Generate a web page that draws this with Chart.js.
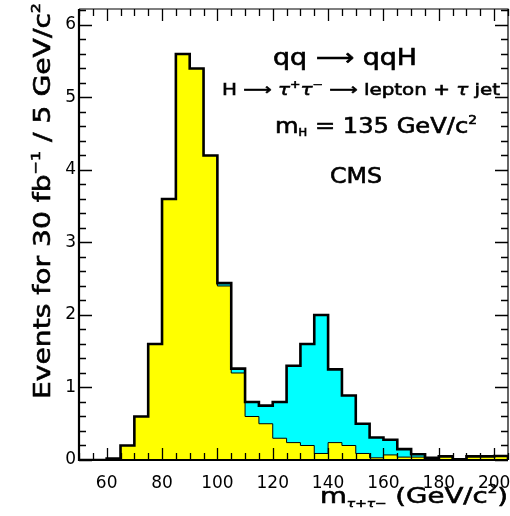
<!DOCTYPE html>
<html>
<head>
<meta charset="utf-8">
<title>m tau tau</title>
<script src="https://cdn.jsdelivr.net/npm/chart.js@4/dist/chart.umd.min.js"></script>
<style>
  body { margin: 0; background: #fff; }
  canvas { display: block; }
</style>
</head>
<body>
<canvas id="mass" width="510" height="516"></canvas>
<script>
// bin edges in GeV/c^2 (5 GeV bins)
const binEdges = [50, 55, 60, 65, 70, 75, 80, 85, 90, 95, 100, 105, 110, 115, 120, 125,
                  130, 135, 140, 145, 150, 155, 160, 165, 170, 175, 180, 185, 190, 195, 200, 205];

// background (yellow), one value per bin
const zTauTau = [0, 0, 0.02, 0.2, 0.6, 1.6, 3.6, 5.6, 5.4, 4.2, 2.4, 1.2, 0.6, 0.5, 0.3, 0.24,
                 0.2, 0.09, 0.24, 0.2, 0.09, 0.03, 0.07, 0.04, 0.04, 0.03, 0.05, 0.01, 0.05, 0.05, 0.055];

// qq -> qqH signal stacked on top (cyan)
const higgsSignal = [0, 0, 0, 0, 0, 0, 0, 0, 0, 0, 0.04, 0.06, 0.2, 0.25, 0.5, 1.06,
                     1.4, 1.91, 1.01, 0.69, 0.41, 0.28, 0.21, 0.11, 0.04, 0, 0, 0, 0, 0, 0];

const xTickLabels = [60, 80, 100, 120, 140, 160, 180, 200];
const yTickLabels = [0, 1, 2, 3, 4, 5, 6];

const FONT = 'DejaVu Sans';

// histogram as step points: one point per left edge, then close at the last edge
function stepPoints(values) {
    const pts = values.map((v, i) => ({ x: binEdges[i], y: v }));
    const last = binEdges[binEdges.length - 1];
    pts.push({ x: last, y: values[values.length - 1] });
    pts.push({ x: last, y: 0 });
    return pts;
}

const total = zTauTau.map((v, i) => v + higgsSignal[i]);

// text with sub/superscripts, squeezed/stretched to a given width
function richText(ctx, runs, x, y, width, angle) {
    ctx.save();
    let w = 0;
    runs.forEach(r => {
        ctx.font = (r.italic ? 'italic ' : '') + r.size + 'px "' + FONT + '"';
        r.w = ctx.measureText(r.t).width;
        w += r.w;
    });
    ctx.translate(x, y);
    if (angle) ctx.rotate(angle);
    if (width) ctx.scale(width / w, 1);
    ctx.fillStyle = '#000';
    ctx.strokeStyle = '#000';
    ctx.lineWidth = 0.6;
    ctx.textBaseline = 'alphabetic';
    ctx.textAlign = 'left';
    let cx = 0;
    runs.forEach(r => {
        ctx.font = (r.italic ? 'italic ' : '') + r.size + 'px "' + FONT + '"';
        ctx.fillText(r.t, cx, r.dy || 0);
        ctx.strokeText(r.t, cx, r.dy || 0);
        cx += r.w;
    });
    ctx.restore();
}

// frame, inward ticks and labels
const framePlugin = {
    id: 'frame',
    afterDraw(chart) {
        const ctx = chart.ctx;
        const a = chart.chartArea;
        const xs = chart.scales.x, ys = chart.scales.y;
        ctx.save();
        ctx.strokeStyle = '#000';

        // ticks
        ctx.lineWidth = 1.3;
        ctx.beginPath();
        for (let v = 50; v <= 205; v += 5) {
            const px = Math.round(xs.getPixelForValue(v)) + 0.5;
            const len = v % 20 === 0 ? 12 : 7;
            ctx.moveTo(px, a.bottom); ctx.lineTo(px, a.bottom - len);
            ctx.moveTo(px, a.top); ctx.lineTo(px, a.top + len);
        }
        for (let i = 0; i <= 31; i++) {
            const v = i * 0.2;
            const py = Math.round(ys.getPixelForValue(v)) + 0.5;
            const len = i % 5 === 0 ? 13 : 7;
            ctx.moveTo(a.left, py); ctx.lineTo(a.left + len, py);
            ctx.moveTo(a.right, py); ctx.lineTo(a.right - len, py);
        }
        ctx.stroke();

        // thin top/right, heavier left/bottom
        ctx.lineWidth = 1.2;
        ctx.beginPath();
        ctx.moveTo(a.left, a.top); ctx.lineTo(a.right, a.top); ctx.lineTo(a.right, a.bottom);
        ctx.stroke();
        ctx.lineWidth = 2.2;
        ctx.beginPath();
        ctx.moveTo(a.left, a.top); ctx.lineTo(a.left, a.bottom); ctx.lineTo(a.right, a.bottom);
        ctx.stroke();
        ctx.restore();

        richText(ctx, [{ t: 'qq ⟶ qqH', size: 23 }], 273, 65, 144);
        richText(ctx, [
            { t: 'H ⟶ ', size: 16 },
            { t: 'τ', size: 16, italic: true },
            { t: '+', size: 10, dy: -7 },
            { t: 'τ', size: 16, italic: true },
            { t: '−', size: 10, dy: -7 },
            { t: ' ⟶ lepton + ', size: 16 },
            { t: 'τ', size: 16, italic: true },
            { t: ' jet', size: 16 }
        ], 222, 95, 278);
        richText(ctx, [
            { t: 'm', size: 21 },
            { t: 'H', size: 10, dy: 3 },
            { t: ' = 135 GeV/c', size: 21 },
            { t: '2', size: 12, dy: -9 }
        ], 275, 133, 202);
        richText(ctx, [{ t: 'CMS', size: 21 }], 330, 183, 52);

        // axis titles
        richText(ctx, [
            { t: 'm', size: 22 },
            { t: 'τ+τ−', size: 11, dy: 4, italic: true },
            { t: ' (GeV/c', size: 22 },
            { t: '2', size: 12, dy: -10 },
            { t: ')', size: 22 }
        ], 320, 503, 188);
        richText(ctx, [
            { t: 'Events for 30 fb', size: 23 },
            { t: '−1', size: 13, dy: -10 },
            { t: ' / 5 GeV/c', size: 23 },
            { t: '2', size: 13, dy: -10 }
        ], 50, 399, 396, -Math.PI / 2);
    }
};

const ctx = document.getElementById('mass').getContext('2d');
const massChart = new Chart(ctx, {
    type: 'line',
    data: {
        datasets: [
            {
                label: 'total',
                data: stepPoints(total),
                stepped: true,
                borderColor: '#000',
                borderWidth: 2.6,
                backgroundColor: '#00ffff',
                fill: '+1',
                pointRadius: 0
            },
            {
                label: 'Z tau tau',
                data: stepPoints(zTauTau),
                stepped: true,
                borderColor: '#000',
                borderWidth: 1,
                backgroundColor: '#ffff00',
                fill: 'origin',
                pointRadius: 0
            }
        ]
    },
    options: {
        responsive: false,
        animation: false,
        devicePixelRatio: 1,
        layout: { padding: { top: 9, right: 2, left: 0, bottom: 0 } },
        plugins: {
            legend: { display: false },
            tooltip: { enabled: false },
            filler: { drawTime: 'beforeDatasetsDraw' }
        },
        scales: {
            x: {
                type: 'linear',
                min: 50,
                max: 205,
                grid: { display: false, drawTicks: false },
                border: { display: false },
                afterBuildTicks: s => { s.ticks = xTickLabels.map(v => ({ value: v })); },
                afterFit: s => { s.height = 56; s.paddingLeft = 0; s.paddingRight = 0; },
                ticks: {
                    autoSkip: false, maxRotation: 0, padding: 13,
                    color: '#000', font: { family: FONT, size: 17 }
                }
            },
            y: {
                min: 0,
                max: 6.22,
                grid: { display: false, drawTicks: false },
                border: { display: false },
                afterBuildTicks: s => { s.ticks = yTickLabels.map(v => ({ value: v })); },
                afterFit: s => { s.width = 79; s.paddingTop = 0; s.paddingBottom = 0; },
                ticks: {
                    padding: 3,
                    color: '#000', font: { family: FONT, size: 17 }
                }
            }
        }
    },
    plugins: [framePlugin]
});
</script>
</body>
</html>
